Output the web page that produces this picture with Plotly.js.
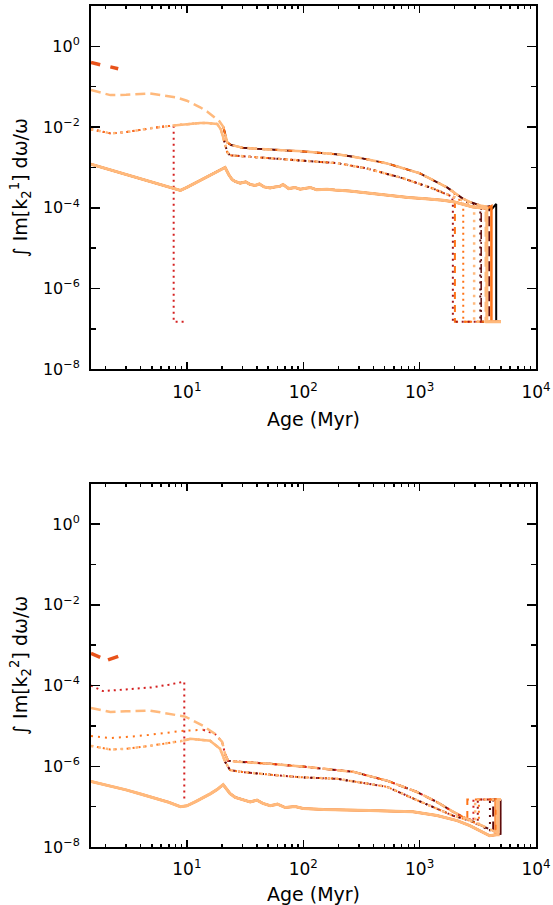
<!DOCTYPE html>
<html><head><meta charset="utf-8">
<script src="https://cdn.plot.ly/plotly-3.0.1.min.js"></script>
<style>html,body{margin:0;padding:0;background:#fff}#chart{width:553px;height:905px}</style>
</head><body><div id="chart"></div>
<script>
// ================= DATA =================
const floorValue = 1.5e-7;
const tailAge = 5000;

// ---- top panel: Im[k2^1] ----
const topSolidAge = [1.5, 2, 3, 4, 5, 6, 7, 8.8, 10, 12, 14, 16, 18, 20, 21.3, 23, 24.5, 26, 28.7, 32, 35, 38.6, 42, 46, 51.9, 57, 63, 67, 75, 85, 94, 115, 130, 160, 187, 250, 350, 524, 800, 1200, 1590, 2000, 2500, 2870, 3300, 3780, 4200, 4600];
const topSolidVal = [1.2e-3, 9.4e-4, 6.7e-4, 5.2e-4, 4.4e-4, 3.7e-4, 3.3e-4, 2.7e-4, 3.2e-4, 4.2e-4, 5.3e-4, 6.5e-4, 7.7e-4, 9e-4, 1e-3, 6.5e-4, 5e-4, 4.5e-4, 4.1e-4, 4.4e-4, 3.8e-4, 3.6e-4, 3.9e-4, 3.3e-4, 3.1e-4, 3.3e-4, 3.4e-4, 3.8e-4, 3.0e-4, 3.2e-4, 2.9e-4, 3.2e-4, 2.8e-4, 2.9e-4, 2.75e-4, 2.6e-4, 2.35e-4, 2.0e-4, 1.8e-4, 1.65e-4, 1.55e-4, 1.4e-4, 1.2e-4, 1.05e-4, 1e-4, 9.5e-5, 9.5e-5, 1e-4];

const topDotAge = [1.5, 2.2, 3, 4.8, 7.7, 10, 13, 14.9, 18.2, 19.5, 20.9, 22.2, 23.5, 30, 40, 52, 80, 120, 195, 350, 720, 1230, 1700, 1900, 2100, 2300, 2600, 2900, 3100, 3300, 3500];
const topDotVal = [8.9e-3, 7e-3, 7.5e-3, 9.3e-3, 1.1e-2, 1.2e-2, 1.26e-2, 1.26e-2, 1.2e-2, 9e-3, 4.7e-3, 2.4e-3, 2e-3, 1.9e-3, 1.85e-3, 1.75e-3, 1.6e-3, 1.45e-3, 1.28e-3, 9.5e-4, 5.4e-4, 3.2e-4, 2.2e-4, 1.9e-4, 1.7e-4, 1.5e-4, 1.35e-4, 1.22e-4, 1.15e-4, 1.12e-4, 1.1e-4];

const topDashAge = [1.5, 2.2, 3, 4.8, 8, 10, 13, 15, 17, 19, 20.6, 21.5, 22.2, 24, 30, 40, 60, 100, 200, 300, 525, 1000, 1720, 2000, 2350, 2700, 3100, 3400, 3600, 3800, 4000];
const topDashVal = [8.3e-2, 6.2e-2, 6.3e-2, 6.8e-2, 5.5e-2, 4.5e-2, 3.1e-2, 2.4e-2, 1.8e-2, 1.4e-2, 1e-2, 6e-3, 4.2e-3, 3.6e-3, 3.1e-3, 2.9e-3, 2.7e-3, 2.5e-3, 2.1e-3, 1.75e-3, 1.26e-3, 7.2e-4, 3.2e-4, 2.3e-4, 1.7e-4, 1.4e-4, 1.2e-4, 1.12e-4, 1.1e-4, 1.07e-4, 1.05e-4];

const topRedDotAge = [1.5, 2.2, 3, 4.8, 7.7, 7.7, 9.7];
const topRedDotVal = [8.9e-3, 7e-3, 7.5e-3, 9.3e-3, 1.1e-2, 1.5e-7, 1.5e-7];

const topSegAge = [7.7, 10, 13, 14.9, 18.2, 19.5, 20.9];
const topSegVal = [1.1e-2, 1.2e-2, 1.26e-2, 1.26e-2, 1.2e-2, 9e-3, 4.7e-3];

const topEarlyAge = [1.5, 1.65, 1.8, null, 2.2, 2.4, 2.57];
const topEarlyVal = [0.4, 0.37, 0.35, null, 0.31, 0.3, 0.28];

// individual tracks: [start age, end age, value where the track ends]
const topSolidTracks = [[1.5, 4550, 1.25e-4], [1.5, 4140, 1.1e-4], [1.5, 3780, 1e-4]];                      // black, orange, light
const topDotTracks   = [[20.9, 1930, 1.2e-4], [20.9, 3320, 1.15e-4], [1.5, 2370, 1.2e-4], [1.5, 2940, 1.15e-4]]; // dark red, brown, orange, light
const topDashTracks  = [[20.6, 3960, 1.1e-4], [20.6, 3380, 1.12e-4], [20.6, 2010, 1.2e-4], [1.5, 3700, 1.1e-4]]; // brown, brown dash-dot, orange, light

// ---- bottom panel: Im[k2^2] ----
const botSolidAge = [1.5, 2, 3, 4, 5, 6, 7, 8.8, 10, 12, 14, 16, 18, 20.5, 22, 23.5, 26, 30, 35, 40, 45, 52, 60, 70, 85, 100, 150, 372, 876, 1410, 2100, 2700, 3470, 4000, 4500, 5000];
const botSolidVal = [4.2e-7, 3.5e-7, 2.6e-7, 2.05e-7, 1.7e-7, 1.45e-7, 1.28e-7, 1e-7, 1.05e-7, 1.35e-7, 1.7e-7, 2.1e-7, 2.6e-7, 3.5e-7, 2.7e-7, 2.1e-7, 1.7e-7, 1.5e-7, 1.3e-7, 1.45e-7, 1.2e-7, 1.05e-7, 1.15e-7, 9.5e-8, 1e-7, 9e-8, 8.5e-8, 8e-8, 7.5e-8, 6e-8, 4.5e-8, 3.4e-8, 2.4e-8, 1.9e-8, 2e-8, 2.2e-8];

const botDotAge = [1.5, 2.2, 3, 4.8, 9.3, 10.7, 15.8, 19.3, 21.3, 23.5, 30, 40, 52, 63, 100, 195, 525, 876, 1410, 1930, 2700, 3300, 4100];
const botDotVal = [3.2e-6, 2.6e-6, 2.7e-6, 3.2e-6, 4.3e-6, 4.8e-6, 4.3e-6, 2.7e-6, 1.3e-6, 8e-7, 7.2e-7, 6.8e-7, 6.2e-7, 5.9e-7, 5.3e-7, 4.9e-7, 3.1e-7, 1.6e-7, 8.9e-8, 6e-8, 4.5e-8, 3.5e-8, 2.5e-8];

const botDashAge = [1.5, 2.2, 3, 4.8, 9.7, 13.8, 17.5, 20.1, 21.3, 22.6, 27, 35, 52, 100, 268, 525, 950, 1410, 1930, 2350, 3000, 3600, 4300];
const botDashVal = [2.8e-5, 2.2e-5, 2.3e-5, 2.4e-5, 1.7e-5, 1e-5, 6.3e-6, 4e-6, 2e-6, 1.37e-6, 1.3e-6, 1.25e-6, 1.15e-6, 9.8e-7, 7.3e-7, 4.4e-7, 2.3e-7, 1.3e-7, 7.5e-8, 5.6e-8, 4e-8, 3.2e-8, 2.5e-8];

const botUpperDotAge = [1.5, 2.2, 3, 4.8, 9.3, 13.8];
const botUpperDotVal = [5.6e-6, 5e-6, 5.3e-6, 6e-6, 7.6e-6, 8e-6];
const botUpperDotTrack = [13.8, 2900, 4.5e-8];

const botRedDotAge = [1.5, 1.9, 3, 5, 7, 9.5, 9.5, 9.8];
const botRedDotVal = [1.0e-4, 7.3e-5, 8e-5, 9e-5, 1.05e-4, 1.25e-4, 1.5e-7, 1.5e-7];

const botSegAge = [9.3, 10.7, 15.8, 19.3, 21.3];
const botSegVal = [4.3e-6, 4.8e-6, 4.3e-6, 2.7e-6, 1.3e-6];

const botEarlyAge = [1.5, 1.65, 1.8, null, 2.1, 2.3, 2.57];
const botEarlyVal = [6.3e-4, 5.6e-4, 5e-4, null, 4.3e-4, 4.8e-4, 5.3e-4];

const botSolidTracks = [[20.5, 4960, 2.1e-8], [1.5, 4500, 2e-8], [1.5, 4730, 2e-8]];                           // brown, orange, light
const botDotTracks   = [[21.3, 3160, 3.6e-8], [21.3, 4020, 2.5e-8], [1.5, 3230, 3.6e-8], [1.5, 3000, 4e-8]];   // dark red, brown, orange, light
const botDashTracks  = [[21.3, 4290, 2.5e-8], [21.3, 2570, 4.6e-8], [1.5, 4600, 2.3e-8]];                      // brown, orange, light

const xTickVals = [10, 100, 1000, 10000];
const xTickText = ['10<sup>1</sup>', '10<sup>2</sup>', '10<sup>3</sup>', '10<sup>4</sup>'];
const yTickVals = [1e-8, 1e-6, 1e-4, 1e-2, 1];
const yTickText = ['10<sup>−8</sup>', '10<sup>−6</sup>', '10<sup>−4</sup>', '10<sup>−2</sup>', '10<sup>0</sup>'];
const yMinorVals = [1e-7, 1e-5, 1e-3, 1e-1, 10];
const xMinorVals = [2,3,4,5,6,7,8,9,20,30,40,50,60,70,80,90,200,300,400,500,600,700,800,900,2000,3000,4000,5000,6000,7000,8000,9000];

// ================= STYLE / BUILD =================
const C = {black:'#000000', brown:'#5e0b0b', dkred:'#a3161a', red:'#d42020', orange:'#ff7418', light:'#ffb97c', early:'#e8521a'};

function track(age, val, t) {
  const start = t[0], end = t[1], endVal = t[2];
  const x = [], y = [];
  for (let i = 0; i < age.length; i++) {
    if (age[i] >= start && age[i] < end) { x.push(age[i]); y.push(val[i]); }
  }
  x.push(end, end, tailAge);
  y.push(endVal, floorValue, floorValue);
  return {x, y};
}
function line(d, color, width, dash, xa, ya) {
  return {x: d.x, y: d.y, type: 'scatter', mode: 'lines', xaxis: xa, yaxis: ya,
    line: {color: color, width: width, dash: dash || 'solid'}, hoverinfo: 'skip', showlegend: false};
}

const traces = [];
const DASH = '10px,5px', DOT = '2px,4px';

// ---------- top panel ----------
(function () {
  const xa = 'x', ya = 'y';
  const S = [topSolidAge, topSolidVal], D = [topDotAge, topDotVal], Dd = [topDashAge, topDashVal];
  traces.push(line({x: topRedDotAge, y: topRedDotVal}, C.red, 2, DOT, xa, ya));
  traces.push(line(track(Dd[0], Dd[1], topDashTracks[0]), C.brown, 2, DASH, xa, ya));
  traces.push(line(track(Dd[0], Dd[1], topDashTracks[1]), C.brown, 1.5, '9px,3px,2px,3px', xa, ya));
  traces.push(line(track(Dd[0], Dd[1], topDashTracks[2]), C.orange, 2, '7px,6px', xa, ya));
  traces.push(line(track(D[0], D[1], topDotTracks[0]), C.dkred, 2, DOT, xa, ya));
  traces.push(line(track(D[0], D[1], topDotTracks[1]), C.brown, 2, '2px,5px', xa, ya));
  traces.push(line(track(D[0], D[1], topDotTracks[2]), C.orange, 2, DOT, xa, ya));
  traces.push(line(track(S[0], S[1], topSolidTracks[0]), C.black, 2, 'solid', xa, ya));
  traces.push(line(track(S[0], S[1], topSolidTracks[1]), C.orange, 2.5, 'solid', xa, ya));
  traces.push(line(track(Dd[0], Dd[1], topDashTracks[3]), C.light, 2.5, DASH, xa, ya));
  traces.push(line(track(D[0], D[1], topDotTracks[3]), C.light, 2.5, '2.5px,5px', xa, ya));
  traces.push(line(track(S[0], S[1], topSolidTracks[2]), C.light, 3, 'solid', xa, ya));
  traces.push(line({x: topSegAge, y: topSegVal}, C.light, 2.5, 'solid', xa, ya));
  traces.push(line({x: topEarlyAge, y: topEarlyVal}, C.early, 3.5, 'solid', xa, ya));
})();

// ---------- bottom panel ----------
(function () {
  const xa = 'x2', ya = 'y2';
  const S = [botSolidAge, botSolidVal], D = [botDotAge, botDotVal], Dd = [botDashAge, botDashVal];
  const ua = botUpperDotAge.slice(), uv = botUpperDotVal.slice();
  const last = ua[ua.length - 1];
  botDashAge.forEach((a, i) => { if (a > last) { ua.push(a); uv.push(botDashVal[i]); } });
  traces.push(line(track(Dd[0], Dd[1], botDashTracks[0]), C.brown, 2, DASH, xa, ya));
  traces.push(line(track(Dd[0], Dd[1], botDashTracks[1]), C.orange, 2, '7px,6px', xa, ya));
  traces.push(line(track(ua, uv, botUpperDotTrack), C.red, 2, DOT, xa, ya));
  traces.push(line(track(D[0], D[1], botDotTracks[0]), C.dkred, 2, DOT, xa, ya));
  traces.push(line(track(D[0], D[1], botDotTracks[1]), C.brown, 2, '2px,5px', xa, ya));
  traces.push(line(track(D[0], D[1], botDotTracks[2]), C.orange, 2, DOT, xa, ya));
  traces.push(line(track(S[0], S[1], botSolidTracks[0]), C.brown, 2, 'solid', xa, ya));
  traces.push(line(track(S[0], S[1], botSolidTracks[1]), C.orange, 2.5, 'solid', xa, ya));
  traces.push(line(track(Dd[0], Dd[1], botDashTracks[2]), C.light, 2.5, DASH, xa, ya));
  traces.push(line(track(D[0], D[1], botDotTracks[3]), C.light, 2.5, '2.5px,5px', xa, ya));
  traces.push(line(track(S[0], S[1], botSolidTracks[2]), C.light, 3, 'solid', xa, ya));
  traces.push(line({x: botUpperDotAge, y: botUpperDotVal}, C.orange, 2, '2px,5px', xa, ya));
  traces.push(line({x: botSegAge, y: botSegVal}, C.light, 2.5, 'solid', xa, ya));
  traces.push(line({x: botRedDotAge, y: botRedDotVal}, C.red, 2, DOT, xa, ya));
  traces.push(line({x: botEarlyAge, y: botEarlyVal}, C.early, 3.5, 'solid', xa, ya));
})();

const font = 'DejaVu Sans, Liberation Sans, Arial, sans-serif';
function xAxis(anchor) {
  return {anchor: anchor, type: 'log', range: [Math.log10(1.5), 4], tickmode: 'array', tickvals: xTickVals, ticktext: xTickText,
    ticks: 'inside', ticklen: 7, tickwidth: 1.5, tickcolor: '#000', mirror: 'ticks', showline: true, linewidth: 2, linecolor: '#000',
    showgrid: false, zeroline: false, ticklabelstandoff: 6, tickfont: {family: font, size: 17, color: '#000'},
    minor: {tickmode: 'array', tickvals: xMinorVals, ticks: 'inside', ticklen: 3, tickwidth: 1.5, tickcolor: '#000', showgrid: false},
    title: {text: 'Age (Myr)', font: {family: font, size: 19, color: '#000'}, standoff: 12}};
}
function yAxis(anchor, domain, label) {
  return {anchor: anchor, domain: domain, type: 'log', range: [-8, 1], tickmode: 'array', tickvals: yTickVals, ticktext: yTickText,
    ticks: 'inside', ticklen: 9, tickwidth: 1.5, tickcolor: '#000', mirror: 'ticks', showline: true, linewidth: 2, linecolor: '#000',
    showgrid: false, zeroline: false, ticklabelstandoff: 6, tickfont: {family: font, size: 16, color: '#000'},
    minor: {tickmode: 'array', tickvals: yMinorVals, ticks: 'inside', ticklen: 5, tickwidth: 1.5, tickcolor: '#000', showgrid: false},
    title: {text: label, font: {family: font, size: 19, color: '#000'}, standoff: 10}};
}

const layout = {
  width: 553, height: 905, margin: {l: 91, r: 17, t: 6, b: 58},
  paper_bgcolor: '#fff', plot_bgcolor: '#fff', showlegend: false,
  font: {family: font, color: '#000'},
  xaxis: xAxis('y'),
  yaxis: yAxis('x', [0.568, 1], '∫ Im[k<sub>2</sub><sup>1</sup>] dω/ω'),
  xaxis2: xAxis('y2'),
  yaxis2: yAxis('x2', [0, 0.432], '∫ Im[k<sub>2</sub><sup>2</sup>] dω/ω')
};

Plotly.newPlot('chart', traces, layout, {staticPlot: true, displayModeBar: false});
</script>
</body></html>
